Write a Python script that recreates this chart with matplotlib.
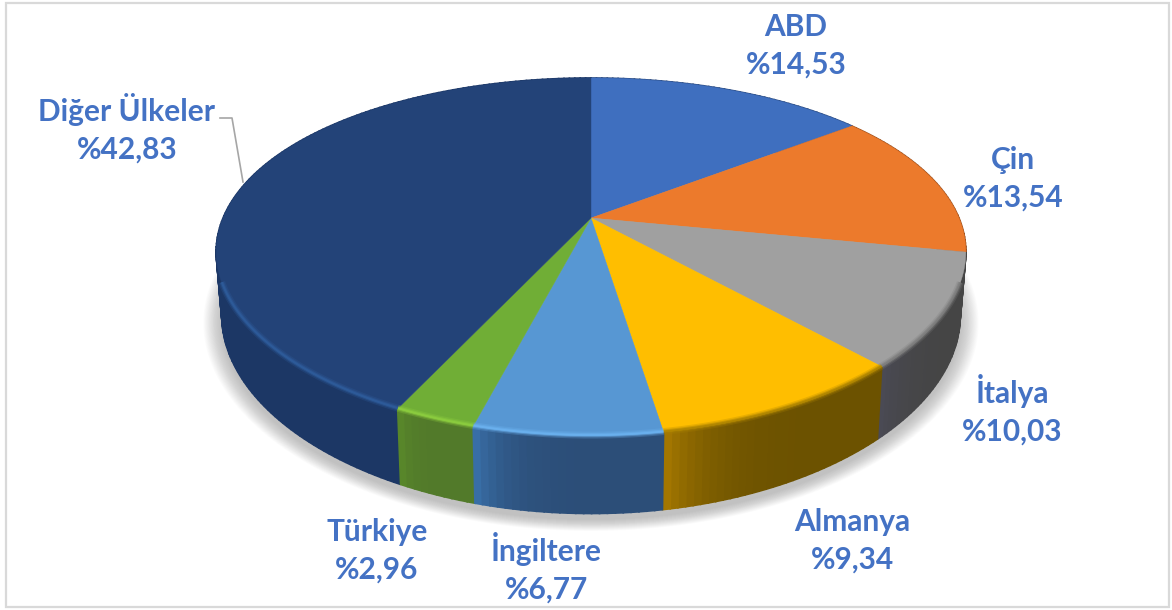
import numpy as np
import matplotlib
matplotlib.use("Agg")
import matplotlib.pyplot as plt
from matplotlib.patches import Polygon, Rectangle
from matplotlib.colors import to_rgb

# ---- data ----
countries = ["ABD", "Çin", "İtalya", "Almanya", "İngiltere", "Türkiye", "Diğer Ülkeler"]
shares = [14.53, 13.54, 10.03, 9.34, 6.77, 2.96, 42.83]

# ---- styles ----
top_colors = ["#3F6FBF", "#EC7A2C", "#A0A0A0", "#FFBE00", "#5797D3", "#70AE36", "#234378"]
side_light = ["#2A4A80", "#9A5020", "#4A4A55", "#A87A00", "#3A72AC", "#5A8A2A", "#1C3765"]
side_dark = ["#2A4A80", "#9A5020", "#454545", "#6C5200", "#2C4E78", "#527A2A", "#1C3765"]
bevel_colors = ["#3F6FBF", "#C06A28", "#7A7A7A", "#A88000", "#6DB4F2", "#8FD040", "#2F5E9E"]
label_xy = [(796, 46), (1013, 179), (1012, 410), (852, 541), (546, 568), (377, 551), (127, 128)]
TEXT = "#4472C4"

CX, CY, A, B, KX, KY, D, SHRINK = 591, 218, 368, 170.4, 0.19, 0.217, 61, 0.985


def top_rim(theta):
    u, v = np.sin(theta), np.cos(theta)
    return CX + A * u / (1 + KX * v), CY - B * v / (1 + KY * v)


def low_rim(theta):
    u, v = np.sin(theta), np.cos(theta)
    return CX + SHRINK * A * u / (1 + KX * v), CY - B * v / (1 + KY * v) + D / (1 + KY * v)


def mix(c1, c2, t):
    a, b = np.array(to_rgb(c1)), np.array(to_rgb(c2))
    return tuple(a + (b - a) * t)


fig = plt.figure(figsize=(11.72, 6.10), dpi=100, facecolor="white")
ax = fig.add_axes([0, 0, 1, 1])
ax.set_xlim(0, 1172)
ax.set_ylim(610, 0)
ax.axis("off")

ax.add_patch(Rectangle((6, 3), 1163, 604, fc="white", ec="#D9D9D9", lw=1.6, zorder=0))

# soft shadow under the disc
full = np.linspace(0, 2 * np.pi, 361)
for s in np.linspace(1.05, 1.0, 24):
    lx, ly = low_rim(full)
    sx = CX + (lx - CX) * s
    sy = 285 + (ly - 285) * s + 6
    ax.add_patch(Polygon(np.column_stack([sx, sy]), fc="#808080", ec="none", alpha=0.022, zorder=1))

fractions = np.array(shares) / sum(shares)
edges = np.concatenate([[0], np.cumsum(fractions)]) * 2 * np.pi

# side walls
strips = []
for i in range(len(shares)):
    n = max(int((edges[i + 1] - edges[i]) / np.radians(1.0)), 2)
    th = np.linspace(edges[i], edges[i + 1], n + 1)
    for j in range(n):
        t = (j + 0.5) / n
        strips.append((np.cos(th[j]), i, th[j], th[j + 1], t))
strips.sort(key=lambda r: -r[0])
for _, i, t0, t1, t in strips:
    col = mix(side_dark[i], side_light[i], t ** 6)
    x0, y0 = top_rim(t0)
    x1, y1 = top_rim(t1)
    x2, y2 = low_rim(t1)
    x3, y3 = low_rim(t0)
    ax.add_patch(Polygon([(x0, y0), (x1, y1), (x2, y2), (x3, y3)], fc=col, ec=col, lw=1.2, zorder=2))

# top faces and rim bevel
for i in range(len(shares)):
    th = np.linspace(edges[i], edges[i + 1], 160)
    x, y = top_rim(th)
    pts = np.column_stack([np.r_[CX, x], np.r_[CY, y]])
    ax.add_patch(Polygon(pts, fc=top_colors[i], ec=top_colors[i], lw=0.3, zorder=3))
    front = np.cos(th) < -0.35
    for (lw, alpha) in [(5.0, 0.25), (3.0, 0.45), (1.5, 0.7)]:
        if front.any():
            ax.plot(x[front], y[front] - 0.5, color=bevel_colors[i], lw=lw, alpha=alpha,
                    solid_capstyle="butt", zorder=4)

# leader line
ax.plot([220, 232, 243], [118, 118, 182], color="#A6A6A6", lw=1.2, zorder=5)

# labels
for name, val, (tx, ty) in zip(countries, shares, label_xy):
    s = f"{name}\n%{val:.2f}".replace(".", ",")
    ax.text(tx, ty, s, color=TEXT, fontsize=21.5, family="Lato", weight="bold",
            ha="center", va="center", linespacing=1.4, zorder=6)

fig.savefig("out.png", dpi=100)
